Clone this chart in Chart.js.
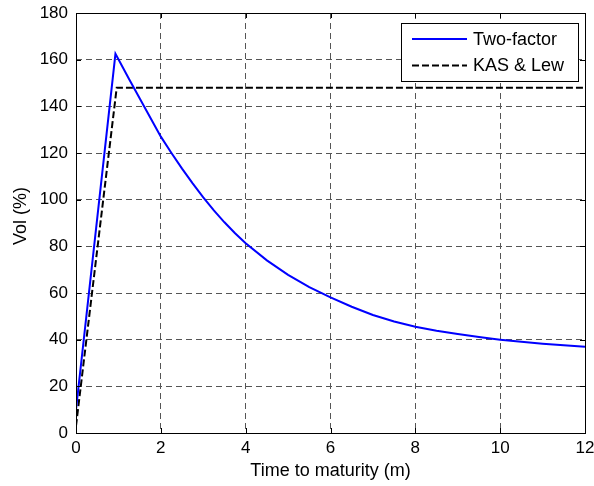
<!DOCTYPE html>
<html>
<head>
<meta charset="utf-8">
<script src="https://cdn.jsdelivr.net/npm/chart.js@4/dist/chart.umd.min.js"></script>
<style>
  html, body { margin: 0; padding: 0; background: #fff; }
  #wrap { width: 594px; height: 486px; }
</style>
</head>
<body>
<div id="wrap"><canvas id="vol-chart" width="594" height="486"></canvas></div>
<script>
// ---- data ----
const xTicks = [0, 2, 4, 6, 8, 10, 12];
const yTicks = [0, 20, 40, 60, 80, 100, 120, 140, 160, 180];

const twoFactorT   = [0, 0.93, 1, 1.25, 1.5, 1.75, 2, 2.25, 2.5, 2.75, 3, 3.25, 3.5, 3.75, 4, 4.5, 5, 5.5, 6, 6.5, 7, 7.5, 8, 8.5, 9, 9.5, 10, 10.5, 11, 11.5, 12];
const twoFactorVol = [10, 162.5, 160.2, 151.7, 143.5, 135.2, 127, 120, 113.3, 107, 101, 95.4, 90.3, 85.6, 81.3, 74, 67.8, 62.5, 58.1, 54.1, 50.6, 47.8, 45.5, 43.8, 42.4, 41.1, 40, 39.1, 38.3, 37.6, 37];

const kasT   = [0, 0.96, 12];
const kasVol = [3, 148, 148];

const FONT = 'Arial, "Liberation Sans", Helvetica, sans-serif';
const yTitle = 'Vol (%)';

const toPoints = (xs, ys) => xs.map((x, i) => ({ x, y: ys[i] }));

// box round the axes, inward ticks, y label, legend
const matlabFrame = {
  id: 'matlabFrame',
  afterDatasetsDraw(chart) {
    const { ctx, chartArea: a, scales } = chart;
    ctx.save();
    ctx.strokeStyle = '#000';
    ctx.lineWidth = 1;
    ctx.setLineDash([]);
    ctx.strokeRect(a.left + 0.5, a.top + 0.5, a.right - a.left, a.bottom - a.top);
    ctx.beginPath();
    xTicks.forEach(v => {
      const px = Math.round(scales.x.getPixelForValue(v)) + 0.5;
      ctx.moveTo(px, a.bottom); ctx.lineTo(px, a.bottom - 5);
      ctx.moveTo(px, a.top); ctx.lineTo(px, a.top + 5);
    });
    yTicks.forEach(v => {
      const py = Math.round(scales.y.getPixelForValue(v)) + 0.5;
      ctx.moveTo(a.left, py); ctx.lineTo(a.left + 5, py);
      ctx.moveTo(a.right, py); ctx.lineTo(a.right - 5, py);
    });
    ctx.stroke();

    // y label
    ctx.save();
    ctx.translate(21, 216);
    ctx.rotate(-Math.PI / 2);
    ctx.font = '18px ' + FONT;
    ctx.fillStyle = '#000';
    ctx.textAlign = 'center';
    ctx.textBaseline = 'middle';
    ctx.fillText(yTitle, 0, 0);
    ctx.restore();

    // legend
    const lx = 401, ly = 23, lw = 177, lh = 58;
    ctx.fillStyle = '#fff';
    ctx.fillRect(lx, ly, lw, lh);
    ctx.strokeRect(lx + 0.5, ly + 0.5, lw, lh);
    ctx.font = '18px ' + FONT;
    ctx.textBaseline = 'middle';
    ctx.textAlign = 'left';
    chart.data.datasets.forEach((ds, i) => {
      const y = ly + 16 + i * 26.5;
      ctx.strokeStyle = ds.borderColor;
      ctx.lineWidth = ds.borderWidth;
      ctx.setLineDash(ds.borderDash || []);
      ctx.beginPath();
      ctx.moveTo(412, y); ctx.lineTo(467, y);
      ctx.stroke();
      ctx.fillStyle = '#000';
      ctx.fillText(ds.label, 473, y + 1);
    });
    ctx.restore();
  }
};

new Chart(document.getElementById('vol-chart'), {
  type: 'scatter',
  data: {
    datasets: [
      {
        label: 'Two-factor',
        data: toPoints(twoFactorT, twoFactorVol),
        showLine: true,
        borderColor: '#0000ff',
        borderWidth: 2,
        pointRadius: 0,
        tension: 0
      },
      {
        label: 'KAS & Lew',
        data: toPoints(kasT, kasVol),
        showLine: true,
        borderColor: '#000000',
        borderWidth: 2,
        borderDash: [7, 3],
        pointRadius: 0,
        tension: 0
      }
    ]
  },
  options: {
    responsive: false,
    animation: false,
    layout: { padding: { top: 13, right: 9, left: 0, bottom: 0 } },
    plugins: { legend: { display: false }, tooltip: { enabled: false } },
    scales: {
      x: {
        type: 'linear', min: 0, max: 12,
        afterBuildTicks: s => { s.ticks = xTicks.map(v => ({ value: v })); },
        afterFit: s => { s.height = 53; s.paddingLeft = 0; s.paddingRight = 0; },
        ticks: { color: '#000', padding: 5, font: { family: FONT, size: 17 } },
        grid: { color: '#555', lineWidth: 1, tickLength: 0, drawTicks: false },
        border: { display: false, dash: [6, 4] },
        title: { display: true, text: 'Time to maturity (m)', color: '#000', padding: { top: 0, bottom: 4 }, font: { family: FONT, size: 18 } }
      },
      y: {
        type: 'linear', min: 0, max: 180,
        afterBuildTicks: s => { s.ticks = yTicks.map(v => ({ value: v })); },
        afterFit: s => { s.width = 76; s.paddingTop = 0; s.paddingBottom = 0; },
        ticks: { color: '#000', padding: 8, font: { family: FONT, size: 17 } },
        grid: { color: '#555', lineWidth: 1, tickLength: 0, drawTicks: false },
        border: { display: false, dash: [6, 4] },
        title: { display: false }
      }
    }
  },
  plugins: [matlabFrame]
});
</script>
</body>
</html>
